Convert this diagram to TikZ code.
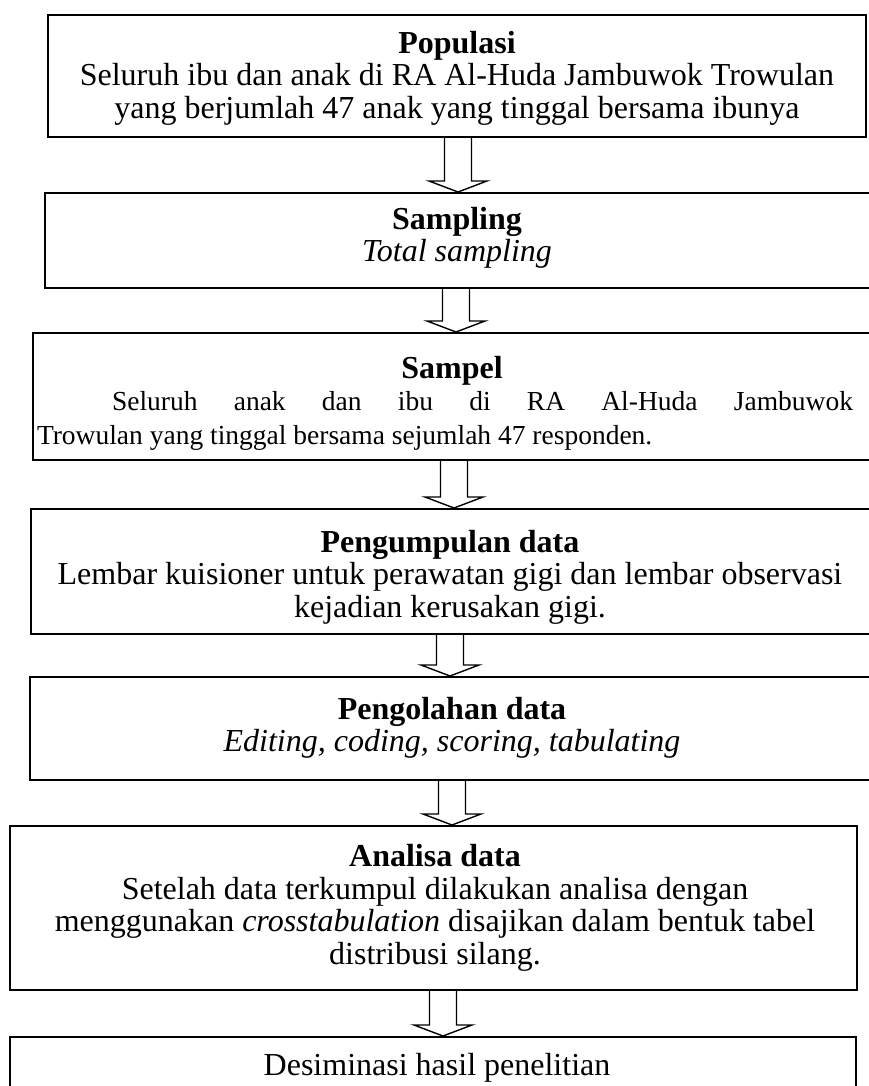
\documentclass[tikz,border=0pt]{standalone}
\usepackage{fontspec}
\setmainfont{Liberation Serif}
\usetikzlibrary{calc}
\tikzset{
  boxnode/.style={draw, line width=2pt, rectangle, inner sep=0pt},
  txt/.style={align=center, inner sep=0pt, font=\fontsize{32}{32.5}\selectfont},
  smalltxt/.style={align=center, inner sep=0pt, font=\fontsize{27.5}{34}\selectfont},
  blockarr/.style={line width=1.4pt, line join=miter},
}
% #1 = x of arrow axis, #2 = upper node, #3 = lower node
\newcommand\blkarrow[3]{%
  \draw[blockarr]
    ({#1-13.5},0 |- #2.south) -- ($({#1-13.5},0 |- #3.north)+(0,-11)$)
    -- ($({#1-29},0 |- #3.north)+(0,-11)$)
    -- ({#1},0 |- #3.north)
    -- ($({#1+29},0 |- #3.north)+(0,-11)$)
    -- ($({#1+13.5},0 |- #3.north)+(0,-11)$)
    -- ({#1+13.5},0 |- #2.south);
}
\begin{document}
\begin{tikzpicture}[x=1pt,y=-1pt]
\useasboundingbox (0,0) rectangle (869,1086);
\clip (0,0) rectangle (869,1086);
% boxes
\node[boxnode, minimum width=818pt, minimum height=122pt] (b1) at (457,76) {};
\node[boxnode, minimum width=830pt, minimum height=95pt] (b2) at (460,240.5) {};
\node[boxnode, minimum width=842pt, minimum height=127pt] (b3) at (454,396.5) {};
\node[boxnode, minimum width=844pt, minimum height=125pt] (b4) at (453,571.5) {};
\node[boxnode, minimum width=845pt, minimum height=103pt] (b5) at (452.5,728.5) {};
\node[boxnode, minimum width=847pt, minimum height=164pt] (b6) at (433.5,908) {};
\node[boxnode, minimum width=846pt, minimum height=80pt] (b7) at (433,1077) {};
% texts
\node[txt] (t1) at (457,78) {\textbf{Populasi}\\Seluruh ibu dan anak di RA Al-Huda Jambuwok Trowulan\\yang berjumlah 47 anak yang tinggal bersama ibunya};
\node[txt] (t2) at (457,238) {\textbf{Sampling}\\\textit{Total sampling}};
\node[txt] (t3t) at (452,371) {\textbf{Sampel}};
\node[smalltxt] (t3) at (445,421) {\makebox[816pt][s]{\hspace{75pt}Seluruh anak dan ibu di RA Al-Huda Jambuwok}\\\makebox[816pt][l]{Trowulan yang tinggal bersama sejumlah 47 responden.}};
\node[txt] (t4) at (450,577) {\textbf{Pengumpulan data}\\Lembar kuisioner untuk perawatan gigi dan lembar observasi\\kejadian kerusakan gigi.};
\node[txt] (t5) at (452,728) {\textbf{Pengolahan data}\\\textit{Editing, coding, scoring, tabulating}};
\node[txt] (t6) at (435,908) {\textbf{Analisa data}\\Setelah data terkumpul dilakukan analisa dengan\\menggunakan \textit{crosstabulation} disajikan dalam bentuk tabel\\distribusi silang.};
\node[txt] (t7) at (437,1068) {Desiminasi hasil penelitian};
% arrows
\blkarrow{458}{b1}{b2}
\blkarrow{456}{b2}{b3}
\blkarrow{454}{b3}{b4}
\blkarrow{450}{b4}{b5}
\blkarrow{452}{b5}{b6}
\blkarrow{443}{b6}{b7}
\end{tikzpicture}
\end{document}
